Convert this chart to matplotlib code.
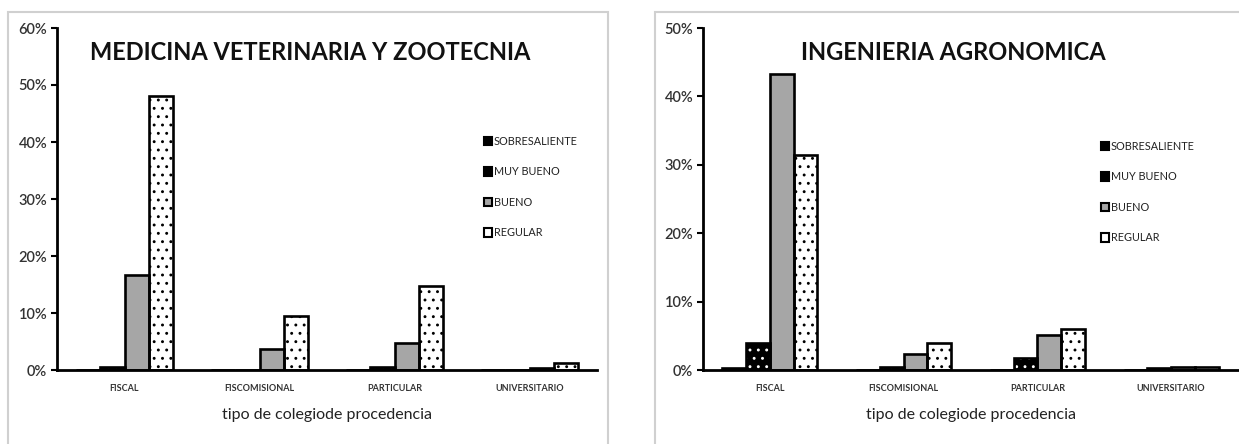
import numpy as np
import matplotlib.pyplot as plt
from matplotlib.patches import Rectangle, Patch

plt.rcParams['font.family'] = ['Lato', 'DejaVu Sans']
plt.rcParams['hatch.linewidth'] = 0.9

categories = ['FISCAL', 'FISCOMISIONAL', 'PARTICULAR', 'UNIVERSITARIO']
series = ['SOBRESALIENTE', 'MUY BUENO', 'BUENO', 'REGULAR']

# porcentajes
mvz_sobresaliente = [0.0, 0.0, 0.0, 0.0]
mvz_muy_bueno = [0.6, 0.0, 0.6, 0.0]
mvz_bueno = [16.6, 3.6, 4.7, 0.3]
mvz_regular = [48.1, 9.4, 14.8, 1.2]

ia_sobresaliente = [0.3, 0.0, 0.0, 0.0]
ia_muy_bueno = [4.0, 0.5, 1.7, 0.3]
ia_bueno = [43.3, 2.3, 5.1, 0.5]
ia_regular = [31.5, 3.9, 6.0, 0.5]

W, H = 1239, 444
fig = plt.figure(figsize=(W / 100, H / 100), dpi=100)

# estilo por serie: (fondo, color de trama, trama)
styles = [
    ('black', 'white', '....'),
    ('black', 'white', '..'),
    ('#a6a6a6', None, None),
    ('white', 'black', '..'),
]


def px(x0, y0, x1, y1):
    return [x0 / W, 1 - y1 / H, (x1 - x0) / W, (y1 - y0) / H]


def panel(rect, border, title, title_xy, data, ymax, leg_xy):
    fig.patches.append(Rectangle((border[0] / W, -0.1), (border[1] - border[0]) / W,
                                 1.1 - border[2] / H, transform=fig.transFigure,
                                 fill=False, edgecolor='#d0d0d0', lw=1.5))
    ax = fig.add_axes(rect)
    x = np.arange(len(categories))
    w = 0.178
    for i, vals in enumerate(data):
        fc, hc, hatch = styles[i]
        pos = x + (i - 1.5) * w
        if hatch:
            ax.bar(pos, vals, w, color=fc, edgecolor=hc, hatch=hatch, lw=0, zorder=2)
        else:
            ax.bar(pos, vals, w, color=fc, lw=0, zorder=2)
        ax.bar(pos, vals, w, fill=False, edgecolor='black', lw=1.9, zorder=3)
    ax.set_xlim(-0.5, 3.5)
    ax.set_ylim(0, ymax)
    ax.set_yticks(np.arange(0, ymax + 1, 10))
    ax.set_yticklabels([f'{v}%' for v in range(0, ymax + 1, 10)], fontsize=10.5,
                       color='#333333', fontweight='semibold')
    ax.set_xticks(x)
    ax.set_xticklabels(categories, fontsize=6.5, fontweight='bold', color='#333333')
    ax.tick_params(axis='x', length=0, pad=10)
    ax.tick_params(axis='y', length=4, width=1.5, pad=3)
    for s in ('top', 'right'):
        ax.spines[s].set_visible(False)
    for s in ('left', 'bottom'):
        ax.spines[s].set_linewidth(2)
    ax.set_xlabel('tipo de colegiode procedencia', fontsize=11.5, color='#222222', labelpad=11)
    fig.text(title_xy[0] / W, 1 - title_xy[1] / H, title, fontsize=17, fontweight='bold',
             ha='center', va='center', color='#111111')
    handles = []
    for fc, hc, hatch in styles:
        handles.append(Patch(facecolor=fc, edgecolor='black', lw=1.5))
    leg = ax.legend(handles, series, loc='upper left', bbox_to_anchor=(leg_xy[0] / W, 1 - leg_xy[1] / H),
                    bbox_transform=fig.transFigure, frameon=False, fontsize=7.8,
                    handlelength=0.8, handleheight=0.8, handletextpad=0.15, labelspacing=1.8)
    for t in leg.get_texts():
        t.set_color('#222222')
    return ax


panel(px(57, 28, 597, 370), (8, 608, 12), 'MEDICINA VETERINARIA Y ZOOTECNIA', (310, 52),
      [mvz_sobresaliente, mvz_muy_bueno, mvz_bueno, mvz_regular], 60, (474, 126))
panel(px(703, 28, 1238, 370), (655, 1245, 12), 'INGENIERIA AGRONOMICA', (953, 52),
      [ia_sobresaliente, ia_muy_bueno, ia_bueno, ia_regular], 50, (1091, 131))

fig.savefig('out.png', dpi=100)
